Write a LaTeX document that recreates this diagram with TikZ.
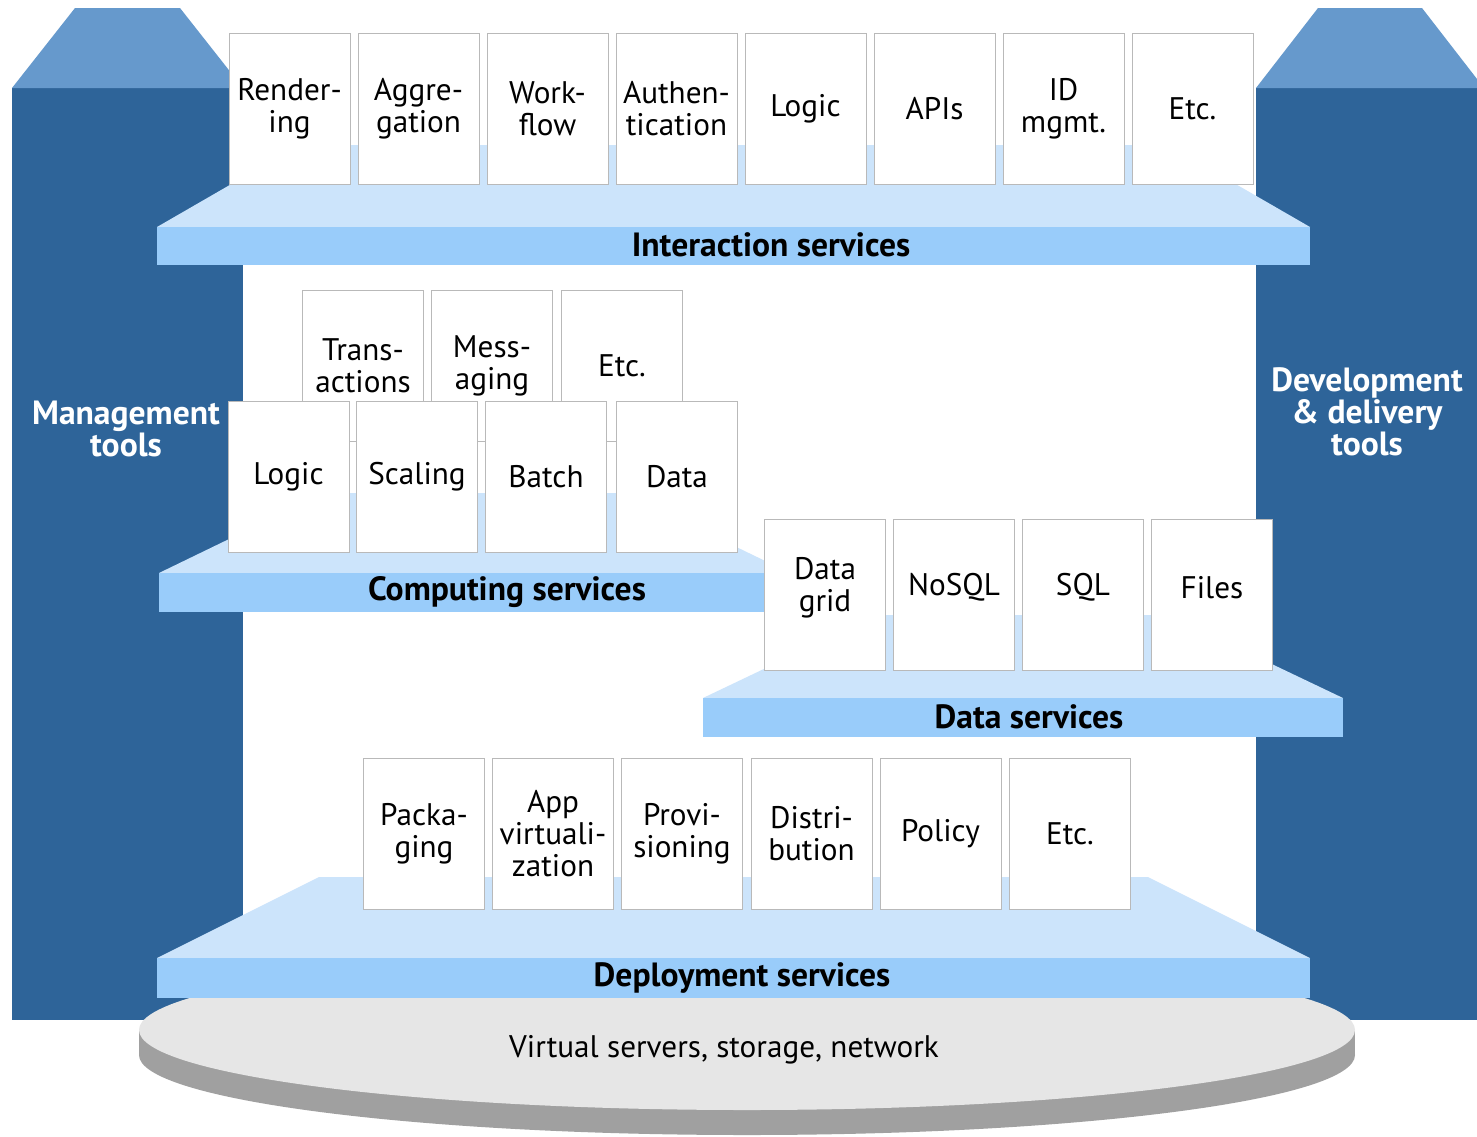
\documentclass[tikz,border=0pt]{standalone}
\usepackage{fontspec}
\setmainfont{PT Sans}
\definecolor{pillar}{RGB}{46,100,153}
\definecolor{pillartop}{RGB}{102,153,204}
\definecolor{band}{RGB}{153,204,250}
\definecolor{face}{RGB}{204,228,251}
\definecolor{disc}{RGB}{230,230,230}
\definecolor{rim}{RGB}{160,160,160}
\definecolor{boxline}{RGB}{185,185,185}
\newcommand\svcfont{\fontsize{15.6}{16}\selectfont}
\newcommand\shelffont{\fontsize{16.8}{16}\selectfont\bfseries}
\newcommand\toolfont{\fontsize{16.8}{16}\selectfont\bfseries\color{white}}
% shelf: band left, band right, band top, band bottom, face top, slope run
\newcommand\drawshelf[6]{%
  \fill[face] (#1,#3) -- ({#1+#6},#5) -- ({#2-#6},#5) -- (#2,#3) -- cycle;
  \fill[band] (#1,#3) rectangle (#2,#4);
}
\tikzset{
  svc/.style={draw=boxline, line width=0.5pt, fill=white,
    minimum width=60.5pt, minimum height=75.5pt, inner sep=0pt,
    align=center, font=\svcfont},
  svctext/.style={font=\svcfont, align=center, inner sep=0pt},
  shelflabel/.style={font=\shelffont, inner sep=0pt},
  toollabel/.style={font=\toolfont, align=center, inner sep=0pt},
}
\begin{document}
\begin{tikzpicture}[x=0.5pt, y=-0.5pt]
\useasboundingbox (0,0) rectangle (1477,1136);
\fill[white] (0,0) rectangle (1477,1136);

% side pillars
\fill[pillar] (12,88) rectangle (243,1020);
\fill[pillartop] (12,88) -- (75,8) -- (180,8) -- (243,88) -- cycle;
\fill[pillar] (1256,88) rectangle (1477,1020);
\fill[pillartop] (1256,88) -- (1318,8) -- (1422,8) -- (1477,79) -- (1477,88) -- cycle;
\node[toollabel] (mgmt) at (126,429) {Management\\tools};
\node[toollabel] (devtools) at (1367,412) {Development\\\& delivery\\tools};

% infrastructure disc
\fill[rim] (747,1055) ellipse [x radius=608, y radius=80];
\fill[rim] (139,1030) rectangle (1355,1055);
\fill[disc] (747,1030) ellipse [x radius=608, y radius=80];
\node[font=\svcfont, inner sep=0pt] (infra) at (724,1050) {Virtual servers, storage, network};

% interaction services
\drawshelf{157}{1310}{227}{265}{145}{142}
\node[shelflabel] (interaction) at (771,245) {Interaction services};
\foreach \t [count=\i from 0] in {Render-\\ing, Aggre-\\gation, Work-\\flow,
    Authen-\\tication, Logic, APIs, ID\\mgmt., Etc.}
  \node[svc] (ia\i) at ({289.5+129*\i},108.5) {\t};

% computing services
\drawshelf{159}{790}{573}{612}{493}{165}
\node[shelflabel] (computing) at (507,592) {Computing services};
\node[svc] (cb0) at (363,366) {Trans-\\actions};
\node[svc] (cb1) at (492,366) {Mess-\\aging};
\node[svc] (cb2) at (622,366) {Etc.};
\node[svc] (cf0) at (288.5,476.5) {Logic};
\node[svc] (cf1) at (417,476.5) {Scaling};
\node[svc] (cf2) at (546,476.5) {Batch};
\node[svc] (cf3) at (677,476.5) {Data};

% data services
\drawshelf{703}{1343}{698}{737}{615}{174}
\node[shelflabel] (data) at (1029,717) {Data services};
\node[svc, label={[svctext, yshift=3.5pt]center:Data\\grid}] (ds0) at (825,594.5) {};
\node[svc, label={[svctext, yshift=3.5pt]center:NoSQL}] (ds1) at (954,594.5) {};
\node[svc, label={[svctext, yshift=3.5pt]center:SQL}] (ds2) at (1083,594.5) {};
\node[svc, label={[svctext, yshift=3.5pt]center:Files}] (ds3) at (1212,594.5) {};

% deployment services
\drawshelf{157}{1310}{958}{998}{877}{162}
\node[shelflabel] (deployment) at (742,978) {Deployment services};
\node[svc] (dp0) at (424,834) {Packa-\\ging};
\node[svc] (dp1) at (553,834) {App\\virtuali-\\zation};
\node[svc] (dp2) at (682,834) {Provi-\\sioning};
\node[svc] (dp3) at (811.5,834) {Distri-\\bution};
\node[svc] (dp4) at (940.5,834) {Policy};
\node[svc] (dp5) at (1070,834) {Etc.};
\end{tikzpicture}
\end{document}
